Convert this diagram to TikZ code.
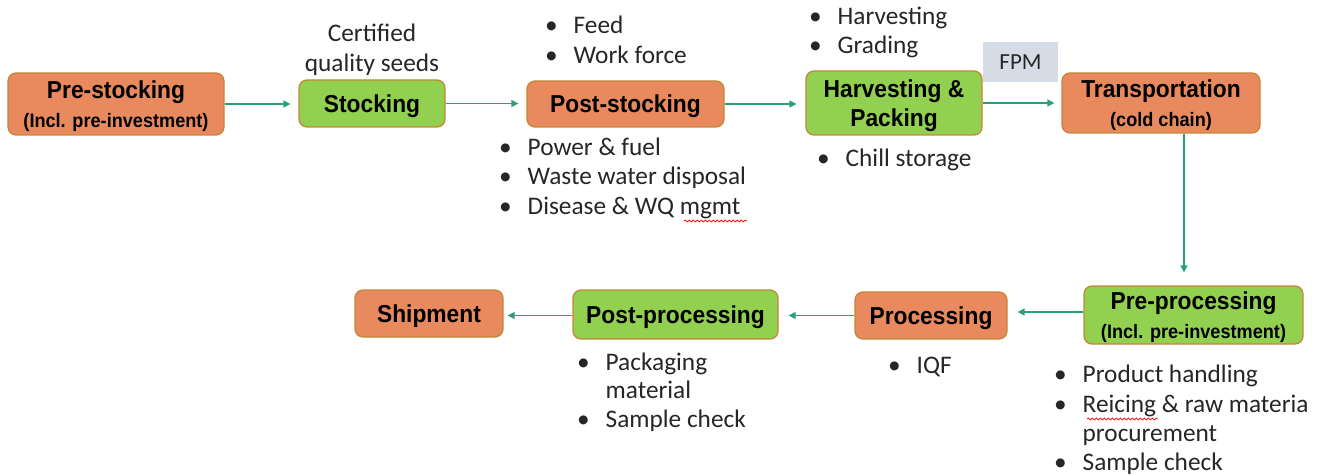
\documentclass[tikz,border=0pt]{standalone}
\usepackage{fontspec}
\setmainfont{Carlito}
\newfontfamily\boxfont[FakeStretch=0.93]{Liberation Sans}
\usetikzlibrary{arrows.meta,decorations.pathmorphing}
\definecolor{orangefill}{RGB}{233,137,94}
\definecolor{greenfill}{RGB}{146,208,80}
\definecolor{boxborder}{RGB}{196,135,55}
\definecolor{arrowcol}{RGB}{42,160,122}
\definecolor{fpmfill}{RGB}{214,220,229}
\definecolor{txt}{RGB}{38,38,38}
\newcommand{\bl}{\makebox[28.5pt][l]{•}}
\newcommand{\subf}{\fontsize{19.5}{19.5}\selectfont}
\begin{document}
\begin{tikzpicture}[x=1pt,y=-1pt,
  box/.style={draw=boxborder,line width=1.3pt,rounded corners=8pt,align=center,
    inner sep=0pt,text depth=0pt,font=\boxfont\bfseries\fontsize{24.5}{24.5}\selectfont,text=black},
  obox/.style={box,fill=orangefill},
  gbox/.style={box,fill=greenfill},
  arr/.style={draw=arrowcol,line width=1.4pt,-{Triangle[length=7pt,width=7pt]}},
  item/.style={anchor=base west,font=\fontsize{25.3}{29}\selectfont,text=txt,inner sep=0pt},
  wavy/.style={draw=red,line width=0.7pt,decorate,decoration={snake,amplitude=1pt,segment length=4pt}}]
\useasboundingbox (0,0) rectangle (1328,476);
% boxes
\node[obox,minimum width=216pt,minimum height=62pt] (prestock) at (116,104) {Pre-stocking\\[4pt]{\subf (Incl. pre-investment)}};
\node[gbox,minimum width=146pt,minimum height=47pt] (stock) at (372,103.5) {Stocking};
\node[obox,minimum width=197pt,minimum height=46pt] (poststock) at (625.5,104) {Post-stocking};
\node[gbox,minimum width=176pt,minimum height=64pt] (harv) at (894,103) {Harvesting \&\\[5pt]Packing};
\node[fill=fpmfill,minimum width=75pt,minimum height=40pt,inner sep=0pt,font=\fontsize{23}{23}\selectfont,text=txt] (fpm) at (1020.5,62) {FPM};
\node[obox,minimum width=198pt,minimum height=60pt] (trans) at (1161,103) {Transportation\\[4pt]{\subf (cold chain)}};
\node[gbox,minimum width=219pt,minimum height=58pt] (preproc) at (1193.5,315) {Pre-processing\\[4pt]{\subf (Incl. pre-investment)}};
\node[obox,minimum width=152pt,minimum height=47pt] (proc) at (931,315.5) {Processing};
\node[gbox,minimum width=205pt,minimum height=49pt] (postproc) at (675.5,314.5) {Post-processing};
\node[obox,minimum width=148pt,minimum height=47pt] (ship) at (429,313.5) {Shipment};
% connectors
\draw[arr,shorten >=8pt] (prestock.east) -- (prestock.east -| stock.west);
\draw[arr,shorten >=8pt] (stock.east) -- (stock.east -| poststock.west);
\draw[arr,shorten >=9pt] (poststock.east) -- (poststock.east -| harv.west);
\draw[arr,shorten >=7pt] (harv.east) -- (harv.east -| trans.west);
\draw[arr,shorten >=13pt] ([xshift=23pt]trans.south) -- ([xshift=23pt]trans.south |- preproc.north);
\draw[arr,shorten >=10pt] ([yshift=3pt]preproc.west) -- ([yshift=3pt]preproc.west -| proc.east);
\draw[arr,shorten >=10pt] (proc.west) -- (proc.west -| postproc.east);
\draw[arr,shorten >=4pt] ([yshift=-1pt]postproc.west) -- ([yshift=-1pt]postproc.west -| ship.east);
% texts
\node[anchor=base,font=\fontsize{25.3}{30}\selectfont,text=txt,align=center,inner sep=0pt] (seeds) at (372,72) {Certified\\quality seeds};
\node[item] (i1) at (545,34) {\bl Feed};
\node[item] (i2) at (545,63.5) {\bl Work force};
\node[item] (i3) at (499,156) {\bl Power \& fuel};
\node[item] (i4) at (499,185) {\bl Waste water disposal};
\node[item] (i5) at (499,214) {\bl Disease \& WQ mgmt};
\node[item] (i6) at (809,25) {\bl Harvesting};
\node[item] (i7) at (809,53.5) {\bl Grading};
\node[item] (i8) at (817,167) {\bl Chill storage};
\node[item] (i9) at (888,373) {\bl IQF};
\node[item] (i10) at (577,370) {\bl Packaging};
\node[item] (i11) at (605.5,398.5) {material};
\node[item] (i12) at (577,427) {\bl Sample check};
\node[item] (i13) at (1054,382) {\bl Product handling};
\node[item] (i14) at (1054,412) {\bl Reicing \& raw materia};
\node[item] (i15) at (1082.5,441) {procurement};
\node[item] (i16) at (1054,470) {\bl Sample check};
% spell-check marks
\draw[wavy] (684,221) -- (747,221);
\draw[wavy] (1087,419) -- (1158,419);
\end{tikzpicture}
\end{document}
